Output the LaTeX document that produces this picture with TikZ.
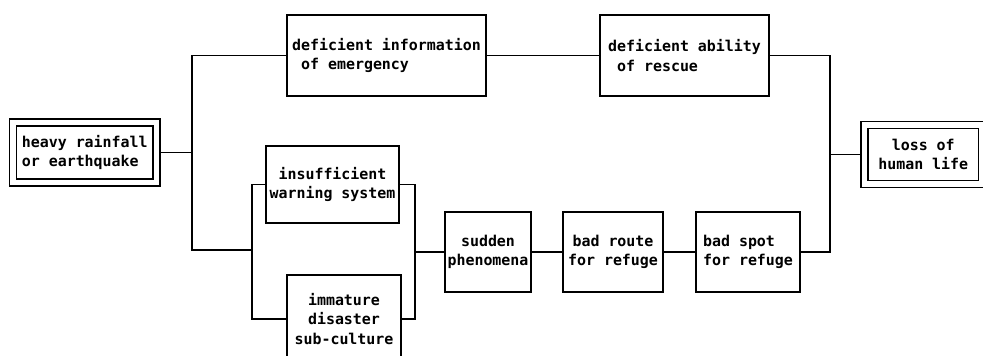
\documentclass[tikz,border=0pt]{standalone}
\usepackage{fontspec}
\setmonofont{DejaVu Sans Mono}
\usepackage{tikz}
\usetikzlibrary{positioning}

\begin{document}
\begin{tikzpicture}[x=0.75pt,y=0.75pt]
                    \tikzstyle{every node}+=[inner sep=1pt]
                    \tikzstyle{box}=[draw,black,line width=1.2pt,rectangle,font=\ttfamily\bfseries\fontsize{11.2}{14.3}\selectfont]
                    \tikzstyle{dbox}=[box,double,double distance=4pt,outer sep=2.6pt]
                    \tikzstyle{wire}=[black,line width=1.2pt]
                    \clip (0,0) rectangle (983,-355);
                    \node [dbox,minimum width=107.6pt,minimum height=45pt,align=left] (rain) at (84.75,-152.5) {heavy rainfall\\or earthquake};
                    \node [box,minimum width=149.25pt,minimum height=60.75pt,align=left] (info) at (386.5,-55.5) {deficient information\\~of emergency};
                    \node [box,minimum width=126.75pt,minimum height=60.75pt,align=left] (rescue) at (684.5,-55.5) {deficient ability\\~of rescue};
                    \node [box,minimum width=99.75pt,minimum height=57.75pt,align=center] (warning) at (332.5,-184.5) {insufficient\\warning system};
                    \node [box,minimum width=85.5pt,minimum height=66pt,align=center] (culture) at (344,-319) {immature\\disaster\\sub-culture};
                    \node [box,minimum width=64.5pt,minimum height=60pt,align=center] (sudden) at (488,-252) {sudden\\phenomena};
                    \node [box,minimum width=75pt,minimum height=60pt,align=center] (route) at (613,-252) {bad route\\for refuge};
                    \node [box,minimum width=78pt,minimum height=60pt,align=left] (spot) at (748,-252) {bad spot\\for refuge};
                    \node [dbox,minimum width=88.1pt,minimum height=44.25pt,align=center] (loss) at (923.25,-154.5) {loss of\\human life};
                    \coordinate (fork) at (192,-152.5);
                    \coordinate (joinA) at (252,-250);
                    \coordinate (joinB) at (415,-252);
                    \coordinate (joinC) at (830,-154.5);
                    \draw [wire] (rain.east) -- (fork) |- (info.west);
                    \draw [wire] (fork) |- (joinA);
                    \draw [wire] (warning.west) -| (joinA) |- (culture.west);
                    \draw [wire] (warning.east) -| (joinB) |- (culture.east);
                    \draw [wire] (joinB) -- (sudden.west);
                    \draw [wire] (sudden.east) -- (route.west);
                    \draw [wire] (route.east) -- (spot.west);
                    \draw [wire] (info.east) -- (rescue.west);
                    \draw [wire] (rescue.east) -| (joinC) |- (spot.east);
                    \draw [wire] (joinC) -- (loss.west);
                \end{tikzpicture}
\end{document}
